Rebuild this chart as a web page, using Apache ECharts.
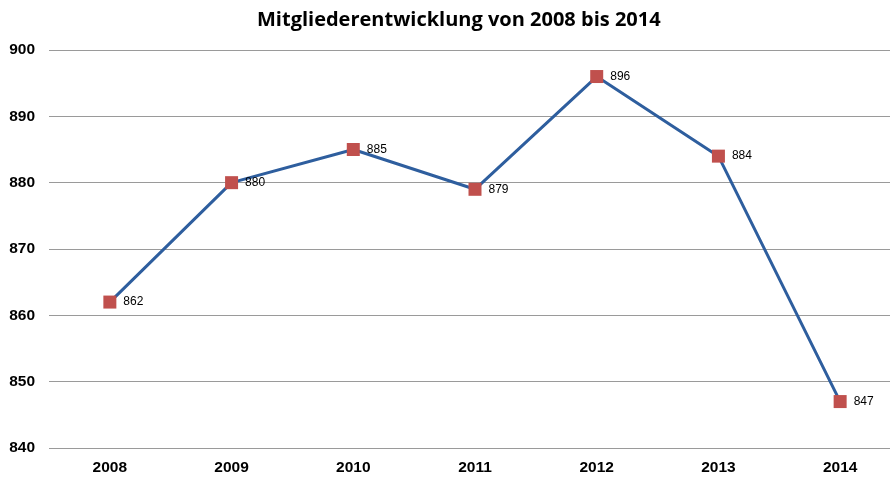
<!DOCTYPE html>
<html><head><meta charset="utf-8">
<script src="https://cdn.jsdelivr.net/npm/echarts@6/dist/echarts.min.js"></script>
<style>html,body{margin:0;padding:0;background:#fff}#c{width:890px;height:478px}</style>
</head><body><div id="c"></div>
<script>
const years = ['2008','2009','2010','2011','2012','2013','2014'];
const members = [862, 880, 885, 879, 896, 884, 847];
const chart = echarts.init(document.getElementById('c'));
chart.setOption({
  animation: false,
  title: {text: 'Mitgliederentwicklung von 2008 bis 2014', left: 252, top: 5,
    textStyle: {fontFamily: 'Open Sans', fontWeight: 'bold', fontSize: 20, color: '#000'}},
  grid: {left: 49, width: 852, top: 50, bottom: 30, outerBoundsMode: 'none', containLabel: false},
  xAxis: {type: 'category', data: years, boundaryGap: true,
    axisLine: {show: false}, axisTick: {show: false},
    axisLabel: {fontFamily: 'Liberation Sans', fontWeight: 'bold', fontSize: 15.5, color: '#000', margin: 12}},
  yAxis: {type: 'value', min: 840, max: 900, interval: 10,
    axisLine: {show: false}, axisTick: {show: false},
    axisLabel: {fontFamily: 'Liberation Sans', fontWeight: 'bold', fontSize: 15.5, color: '#000', margin: 14},
    splitLine: {lineStyle: {color: '#9a9a9a', width: 1}}},
  series: [{type: 'line', data: members, symbol: 'rect', symbolSize: 13,
    lineStyle: {color: '#2E5E9E', width: 3},
    itemStyle: {color: '#C0504D', borderWidth: 0},
    label: {show: true, position: 'right', distance: 7, fontFamily: 'Liberation Sans', fontSize: 12, color: '#000'}}]
});
</script></body></html>
